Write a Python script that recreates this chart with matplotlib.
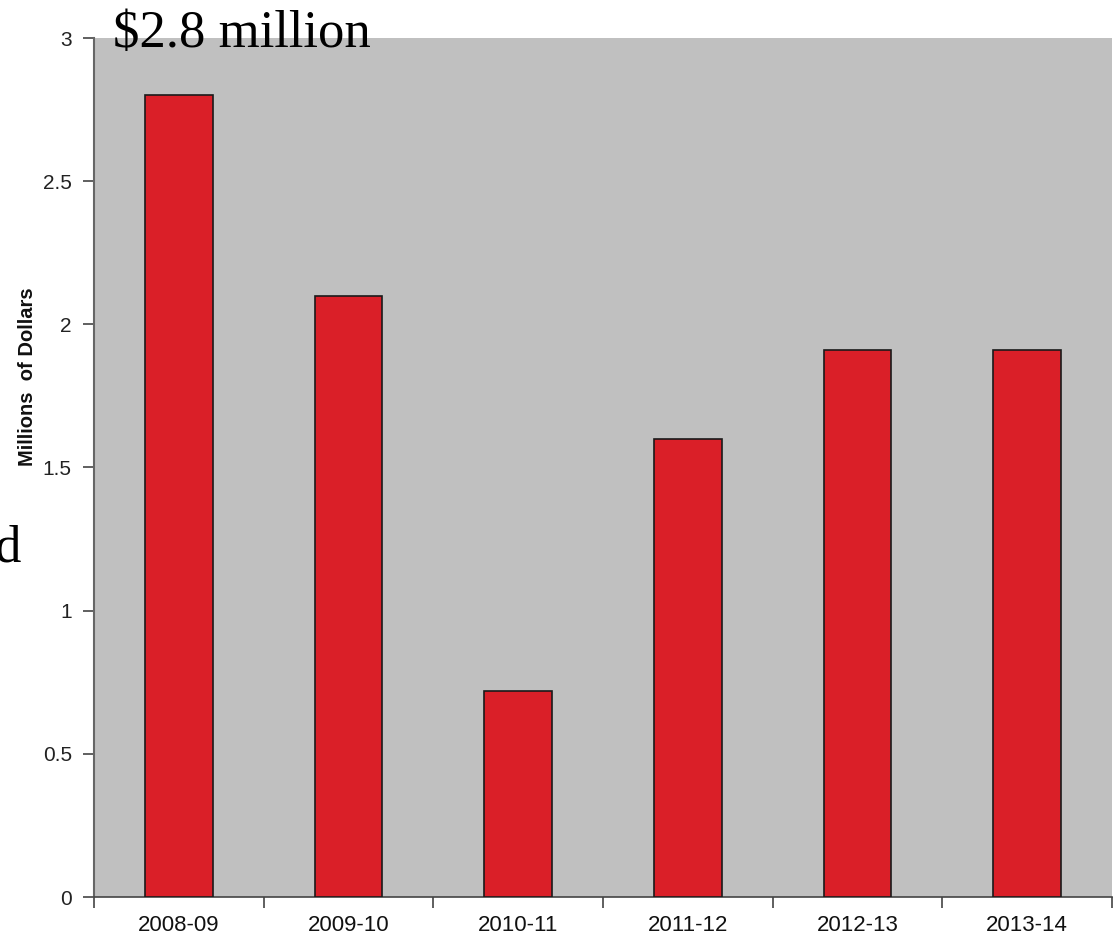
import matplotlib
matplotlib.use("Agg")
import matplotlib.pyplot as plt
import numpy as np

categories = ["2008-09", "2009-10", "2010-11", "2011-12", "2012-13", "2013-14"]
values = [2.8, 2.1, 0.72, 1.6, 1.91, 1.91]
yticks = [0, 0.5, 1, 1.5, 2, 2.5, 3]
ytick_labels = ["0", "0.5", "1", "1.5", "2", "2.5", "3"]

W, H = 1115, 938
fig = plt.figure(figsize=(W / 100, H / 100), dpi=100)
fig.patch.set_facecolor("white")

left, right, top, bottom = 94, 1112, 38, 897
ax = fig.add_axes([left / W, 1 - bottom / H, (right - left) / W, (bottom - top) / H])
ax.set_facecolor("#C0C0C0")

x = np.arange(len(categories))
ax.bar(x, values, width=0.4, color="#DA1F28", edgecolor="#1a1a1a", linewidth=1.2, zorder=3)

ax.set_xlim(-0.5, len(categories) - 0.5)
ax.set_ylim(0, 3)

ax.set_yticks(yticks)
ax.set_yticklabels(ytick_labels, fontfamily="Liberation Sans", fontsize=15, color="#222222")
ax.set_xticks(x)
ax.set_xticklabels(categories, fontfamily="Liberation Sans", fontsize=16, color="#111111")
ax.tick_params(axis="x", length=0, pad=13)
ax.set_xticks(np.arange(-0.5, len(categories)), minor=True)
ax.tick_params(axis="x", which="minor", length=8, width=1.2, color="#444444", direction="out")
ax.tick_params(axis="y", length=8, width=1.2, color="#444444", direction="out", pad=8)

for s in ["top", "right"]:
    ax.spines[s].set_visible(False)
ax.spines["left"].set_color("#666666")
ax.spines["left"].set_linewidth(1.5)
ax.spines["bottom"].set_color("#444444")
ax.spines["bottom"].set_linewidth(1.2)

fig.text(28 / W, 1 - 377 / H, "Millions  of Dollars", rotation=90, ha="center", va="center",
         fontfamily="Liberation Sans", fontweight="bold", fontsize=14.5, color="#111111")

fig.text(113 / W, 1 - 47 / H, "$2.8 million", ha="left", va="baseline",
         fontfamily="Liberation Serif", fontsize=38, color="black")
fig.text(20 / W, 1 - 562 / H, "d", ha="right", va="baseline",
         fontfamily="Liberation Serif", fontsize=38, color="black")

fig.savefig("out.png", dpi=100, facecolor="white")
